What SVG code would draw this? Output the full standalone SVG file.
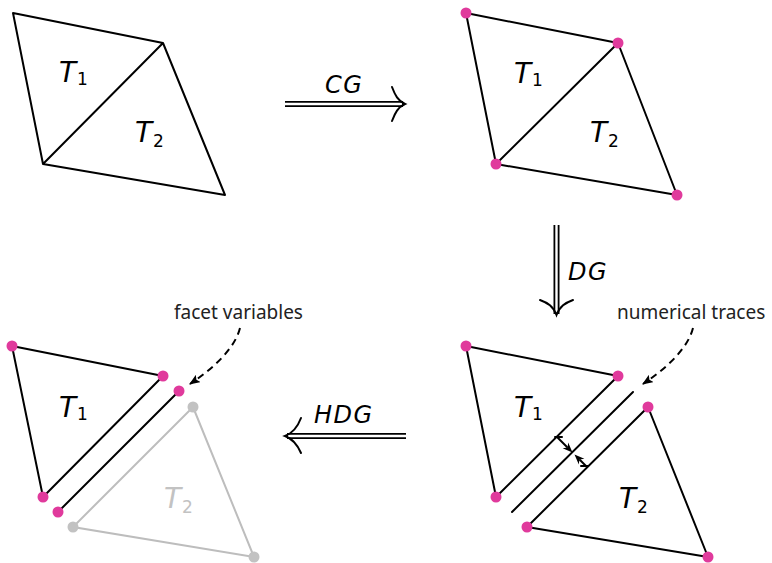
<svg xmlns="http://www.w3.org/2000/svg" width="772" height="563" viewBox="0 0 772 563">
<style>
.e{stroke:#000;stroke-width:2;fill:none;stroke-linejoin:round;stroke-linecap:round}
.g{stroke:#bdbdbd;stroke-width:2;fill:none;stroke-linecap:round}
.d{fill:#e03a9c}
.dg{fill:#c2c2c2}
.m{font-family:"DejaVu Sans",sans-serif;font-style:italic;font-size:28px;fill:#000}
.s{font-family:"DejaVu Sans",sans-serif;font-style:normal;font-size:17px}
.a{font-family:"DejaVu Sans",sans-serif;font-style:italic;font-size:24px;fill:#000;letter-spacing:1.5px}
.t{font-family:"Noto Sans",sans-serif;font-size:19px;fill:#222}
.dbl{stroke:#000;stroke-width:6;fill:none}
.dblw{stroke:#fff;stroke-width:2.4;fill:none}
.hd{stroke:#000;stroke-width:2;fill:none;stroke-linecap:round}
.ds{stroke:#000;stroke-width:2;fill:none;stroke-dasharray:7 5}
.ah{fill:#000;stroke:none}
</style>
<defs>
<marker id="tip" viewBox="0 0 10 8" refX="9" refY="4" markerWidth="11" markerHeight="9" markerUnits="userSpaceOnUse" orient="auto">
<path d="M0,0 L10,4 L0,8 L2,4 Z" fill="#000"/>
</marker>
</defs>

<g id="mesh-top-left">
<path class="e" d="M13,13 L163,43 L225,195 L43,164 Z M43,164 L163,43"/>
<text class="m" x="59" y="82">T<tspan class="s" dx="1" dy="3">1</tspan></text>
<text class="m" x="135" y="142">T<tspan class="s" dx="1" dy="5">2</tspan></text>
</g>

<g id="mesh-top-right">
<path class="e" d="M466,13 L618,43 L677,195 L496,164 Z M496,164 L618,43"/>
<circle class="d" cx="466" cy="13" r="5.5"/>
<circle class="d" cx="618" cy="43" r="5.5"/>
<circle class="d" cx="677" cy="195" r="5.5"/>
<circle class="d" cx="496" cy="164" r="5.5"/>
<text class="m" x="514" y="83">T<tspan class="s" dx="1" dy="3">1</tspan></text>
<text class="m" x="590" y="142">T<tspan class="s" dx="1" dy="5">2</tspan></text>
</g>

<g id="mesh-bottom-right">
<path class="e" d="M618,376 L466,346 L496,497 Z"/>
<path class="e" d="M648,407 L708,557 L527,527 Z"/>
<line class="e" x1="633" y1="392" x2="512" y2="512"/>
<circle class="d" cx="466" cy="346" r="5.5"/>
<circle class="d" cx="618" cy="376" r="5.5"/>
<circle class="d" cx="496" cy="497" r="5.5"/>
<circle class="d" cx="648" cy="407" r="5.5"/>
<circle class="d" cx="708" cy="557" r="5.5"/>
<circle class="d" cx="527" cy="527" r="5.5"/>
<text class="m" x="514" y="417">T<tspan class="s" dx="1" dy="3">1</tspan></text>
<text class="m" x="619" y="508">T<tspan class="s" dx="1" dy="5">2</tspan></text>
<line class="e" x1="557" y1="437" x2="567" y2="447" stroke-width="1.8"/>
<polygon class="ah" points="572.5,452.5 568.2,442.6 567.6,447.6 562.6,448.2"/>
<line class="e" x1="586" y1="466" x2="580" y2="460" stroke-width="1.8"/>
<polygon class="ah" points="574.5,454.5 584.4,458.8 579.4,459.4 578.8,464.4"/>
<line class="e" x1="555" y1="437" x2="562" y2="437" stroke-width="1.8"/>
<line class="e" x1="581" y1="466" x2="588" y2="466" stroke-width="1.8"/>
</g>

<g id="mesh-bottom-left">
<path class="g" d="M193,407 L254,557 L73,527 Z"/>
<circle class="dg" cx="193" cy="407" r="5.5"/>
<circle class="dg" cx="254" cy="557" r="5.5"/>
<circle class="dg" cx="73" cy="527" r="5.5"/>
<text class="m" x="164" y="508" style="fill:#c2c2c2">T<tspan class="s" dx="1" dy="5">2</tspan></text>
<path class="e" d="M163,376 L12,346 L43,497 Z"/>
<line class="e" x1="179" y1="391" x2="58" y2="512"/>
<circle class="d" cx="12" cy="346" r="5.5"/>
<circle class="d" cx="163" cy="376" r="5.5"/>
<circle class="d" cx="43" cy="497" r="5.5"/>
<circle class="d" cx="179" cy="391" r="5.5"/>
<circle class="d" cx="58" cy="512" r="5.5"/>
<text class="m" x="59" y="417">T<tspan class="s" dx="1" dy="3">1</tspan></text>
</g>

<g id="label-facet">
<text class="t" x="174" y="319">facet variables</text>
</g>
<g id="label-traces">
<text class="t" x="617" y="319">numerical traces</text>
</g>

<g id="connectors">
<line class="dbl" x1="285" y1="104" x2="403" y2="104"/>
<line class="dblw" x1="284" y1="104" x2="402" y2="104"/>
<path class="hd" d="M392,87 C395,95 398,101 405,104 C398,107 395,113 392,121"/>
<text class="a" x="325" y="93">CG</text>

<line class="dbl" x1="556.5" y1="225" x2="556.5" y2="314"/>
<line class="dblw" x1="556.5" y1="224" x2="556.5" y2="313"/>
<path class="hd" d="M540,300 C548,303 553,306 556.5,315 C560,306 565,303 573,300"/>
<text class="a" x="568" y="280">DG</text>

<line class="dbl" x1="287" y1="436" x2="406" y2="436"/>
<line class="dblw" x1="288" y1="436" x2="407" y2="436"/>
<path class="hd" d="M301,418 C298,426 293,433 285,436 C293,439 298,446 301,453"/>
<text class="a" x="314" y="423">HDG</text>

<path class="ds" d="M240,328 C235,348 214,368 190,384" marker-end="url(#tip)"/>
<path class="ds" d="M693,328 C688,348 667,368 643,384" marker-end="url(#tip)"/>
</g>
</svg>
